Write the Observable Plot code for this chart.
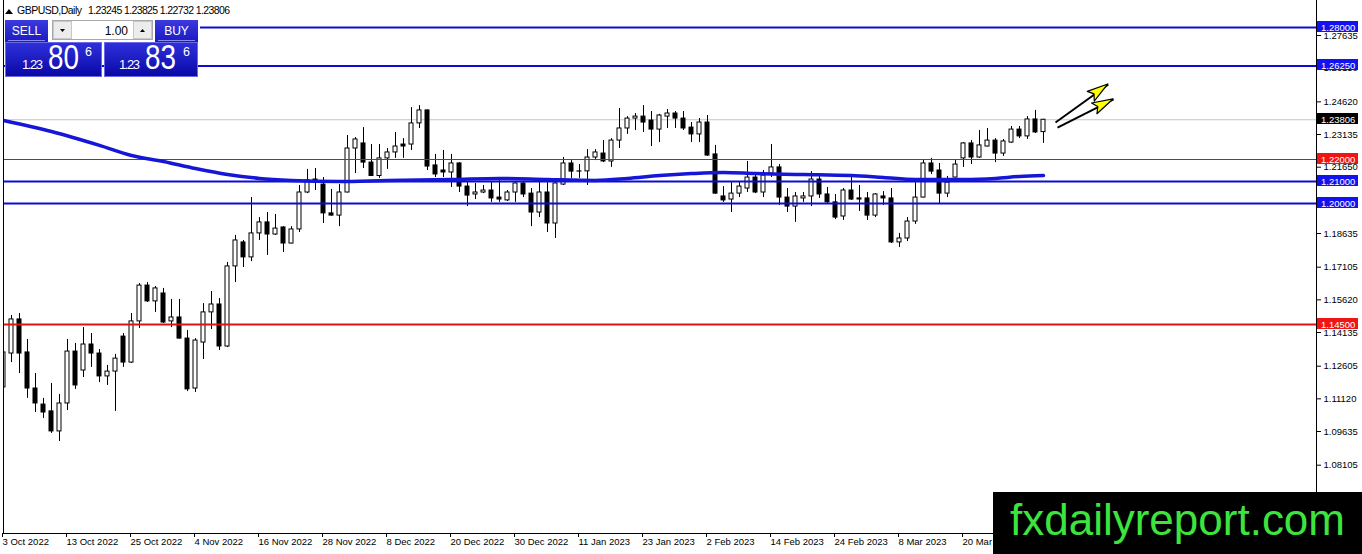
<!DOCTYPE html>
<html><head><meta charset="utf-8">
<script src="https://cdn.jsdelivr.net/npm/d3@7"></script>
<script src="https://cdn.jsdelivr.net/npm/@observablehq/plot@0.6"></script>
<style>
html,body{margin:0;padding:0;background:#fff;}
#chart{position:relative;width:1362px;height:554px;overflow:hidden;}
</style></head><body><div id="chart"></div>
<script>
// ---- data (GBPUSD daily, bar index 0 = 3 Oct 2022) ----
const opens = [1.1164,1.1318,1.1473,1.1323,1.1159,1.1086,1.1055,1.0964,1.1091,1.1327,
1.1241,1.1359,1.1318,1.1214,1.1236,1.1395,1.1277,1.1464,1.1627,1.1555,
1.1591,1.1464,1.1482,1.1386,1.1159,1.1368,1.1505,1.1541,1.1350,1.1714,
1.1823,1.1755,1.1864,1.1914,1.1859,1.1891,1.1818,1.1882,1.2050,1.2109,
1.2086,1.1955,1.1945,1.2050,1.2250,1.2273,1.2186,1.2125,1.2205,1.2232,
1.2268,1.2268,1.2364,1.2423,1.2173,1.2150,1.2141,1.2182,1.2077,1.2041,
1.2050,1.2059,1.2027,1.2014,1.2050,1.2091,1.2045,1.1959,1.2050,1.1909,
1.2086,1.2182,1.2145,1.2146,1.2209,1.2227,1.2191,1.2286,1.2341,1.2386,
1.2395,1.2377,1.2336,1.2395,1.2409,1.2386,1.2345,1.2314,1.2368,1.2223,
1.2032,1.2018,1.2045,1.2068,1.2118,1.2050,1.2136,1.2164,1.2027,1.1986,
1.2023,1.2032,1.2109,1.2041,1.2005,1.1941,1.2059,1.2023,1.2023,1.1945,
1.2032,1.2023,1.1823,1.1841,1.1918,1.2027,1.2182,1.2150,1.2045,1.2118,
1.2205,1.2273,1.2209,1.2259,1.2286,1.2227,1.2277,1.2336,1.2305,1.2382,
1.23245];
const highs = [1.1350,1.1491,1.1500,1.1382,1.1227,1.1114,1.1182,1.1132,1.1382,1.1364,
1.1436,1.1409,1.1336,1.1264,1.1314,1.1409,1.1500,1.1636,1.1641,1.1623,
1.1614,1.1564,1.1564,1.1423,1.1386,1.1545,1.1600,1.1568,1.1732,1.1855,
1.1832,1.2027,1.1936,1.1959,1.1950,1.1895,1.1895,1.2082,1.2155,1.2159,
1.2118,1.2064,1.2086,1.2309,1.2300,1.2345,1.2268,1.2268,1.2250,1.2323,
1.2295,1.2436,1.2445,1.2425,1.2223,1.2241,1.2223,1.2186,1.2095,1.2091,
1.2082,1.2095,1.2118,1.2059,1.2095,1.2095,1.2068,1.2095,1.2095,1.2095,
1.2209,1.2195,1.2177,1.2245,1.2245,1.2286,1.2295,1.2432,1.2395,1.2409,
1.2445,1.2418,1.2405,1.2427,1.2418,1.2418,1.2368,1.2386,1.2400,1.2264,
1.2077,1.2095,1.2100,1.2191,1.2136,1.2150,1.2268,1.2177,1.2068,1.2050,
1.2050,1.2145,1.2123,1.2073,1.2041,1.2068,1.2118,1.2082,1.2050,1.2045,
1.2054,1.2068,1.1864,1.1936,1.2095,1.2200,1.2205,1.2182,1.2123,1.2200,
1.2277,1.2286,1.2332,1.2341,1.2295,1.2291,1.2350,1.2350,1.2395,1.2423,
1.23825];
const lows = [1.1091,1.1277,1.1227,1.1114,1.1050,1.1023,1.0955,1.0918,1.1059,1.1155,
1.1209,1.1255,1.1186,1.1173,1.1055,1.1255,1.1273,1.1432,1.1550,1.1505,
1.1455,1.1436,1.1384,1.1145,1.1141,1.1291,1.1427,1.1332,1.1345,1.1641,
1.1709,1.1736,1.1832,1.1764,1.1855,1.1777,1.1816,1.1868,1.2045,1.2059,
1.1909,1.1943,1.1895,1.2048,1.2136,1.2159,1.2123,1.2114,1.2155,1.2205,
1.2205,1.2241,1.2341,1.2150,1.2118,1.2118,1.2073,1.2050,1.1986,1.2018,
1.2045,1.2005,1.2005,1.2009,1.2005,1.2027,1.1895,1.1936,1.1868,1.1841,
1.2082,1.2114,1.2114,1.2082,1.2195,1.2186,1.2164,1.2250,1.2314,1.2332,
1.2323,1.2259,1.2277,1.2341,1.2341,1.2332,1.2277,1.2277,1.2214,1.2041,
1.2005,1.1959,1.2027,1.2050,1.2045,1.2027,1.2118,1.1991,1.1959,1.1914,
1.2005,1.1986,1.2023,1.2000,1.1927,1.1923,1.2014,1.1964,1.1923,1.1936,
1.1991,1.1818,1.1800,1.1827,1.1905,1.2025,1.2132,1.2000,1.2027,1.2116,
1.2164,1.2177,1.2205,1.2257,1.2186,1.2214,1.2273,1.2295,1.2291,1.2318,
1.22732];
const closes = [1.1323,1.1473,1.1318,1.1159,1.1091,1.1050,1.0964,1.1091,1.1327,1.1173,
1.1359,1.1318,1.1214,1.1236,1.1295,1.1277,1.1464,1.1627,1.1555,1.1614,
1.1459,1.1482,1.1386,1.1155,1.1377,1.1505,1.1541,1.1350,1.1714,1.1832,
1.1755,1.1864,1.1914,1.1859,1.1886,1.1818,1.1882,1.2050,1.2105,1.2095,
1.1955,1.1945,1.2050,1.2250,1.2291,1.2186,1.2125,1.2205,1.2232,1.2259,
1.2259,1.2364,1.2423,1.2168,1.2132,1.2141,1.2182,1.2077,1.2036,1.2050,
1.2059,1.2023,1.2018,1.2050,1.2091,1.2041,1.1959,1.2050,1.1909,1.2091,
1.2182,1.2145,1.2146,1.2209,1.2232,1.2191,1.2286,1.2341,1.2386,1.2395,
1.2368,1.2336,1.2400,1.2409,1.2386,1.2341,1.2314,1.2368,1.2218,1.2045,
1.2014,1.2045,1.2077,1.2118,1.2050,1.2127,1.2164,1.2027,1.1986,1.2032,
1.2032,1.2109,1.2041,1.2005,1.1936,1.2059,1.2018,1.2018,1.1945,1.2041,
1.2023,1.1823,1.1841,1.1918,1.2027,1.2182,1.2145,1.2045,1.2095,1.2177,
1.2273,1.2209,1.2264,1.2286,1.2227,1.2282,1.2336,1.2305,1.2382,1.2323,
1.23806];

// moving average (bar index, value)
const maIdx  = [0,6,12,16,20,24,28,32,36,42,48,56,62,68,74,78,82,86,90,94,100,106,110,114,120,124,127,130];
const maVals = [1.2377,1.2327,1.2264,1.2218,1.2191,1.2159,1.2132,1.2114,1.2105,1.2100,1.2105,1.2109,1.2114,1.2109,1.2105,1.2114,1.2127,1.2136,1.2141,1.2136,1.2132,1.2127,1.2118,1.2109,1.2109,1.2114,1.2123,1.2127];

const dateTickIdx = [0,8,16,24,32,40,48,56,64,72,80,88,96,104,112,120];
const dateTickLabels = ["3 Oct 2022","13 Oct 2022","25 Oct 2022","4 Nov 2022","16 Nov 2022","28 Nov 2022","8 Dec 2022","20 Dec 2022","30 Dec 2022","11 Jan 2023","23 Jan 2023","2 Feb 2023","14 Feb 2023","24 Feb 2023","8 Mar 2023","20 Mar"];
const priceTicks = [1.27635,1.26150,1.24620,1.23135,1.21650,1.18635,1.17105,1.15620,1.14135,1.12605,1.11120,1.09635,1.08105];

const blueLevels = [1.28, 1.2625, 1.21, 1.20];
const redThinLevels = [1.22];
const redThickLevels = [1.145];
const lastPrice = 1.23806;

const boxLevels = [1.28, 1.2625, 1.23806, 1.22, 1.21, 1.20, 1.145];
const boxKinds  = ["blue","blue","last","red","blue","blue","red"];

// trend arrows (bar index, price)
const arrowX1 = [131.5, 131.75];
const arrowY1 = [1.2368, 1.2345];
const arrowX2 = [138.1, 138.75];
const arrowY2 = [1.2541, 1.2473];

const symbol = "GBPUSD,Daily";
const ohlcText = "1.23245 1.23825 1.22732 1.23806";
const lotSize = "1.00";
const bidParts = ["1.23","80","6"];
const askParts = ["1.23","83","6"];
const watermark = "fxdailyreport.com";

// ---- build ----
const candles = opens.map((o,i)=>({i, o, h:highs[i], l:lows[i], c:closes[i]}));
const upC = candles.filter(d=>d.c>=d.o);
const dnC = candles.filter(d=>d.c<d.o);
const ma = maIdx.map((i,k)=>({i, v:maVals[k]}));
const arrows = arrowX1.map((x,k)=>({x1:x, y1:arrowY1[k], x2:arrowX2[k], y2:arrowY2[k]}));
const labelOf = new Map(dateTickIdx.map((d,k)=>[d,dateTickLabels[k]]));

const FONT = "'Liberation Sans', Arial, sans-serif";
const BLUE = "#0c0cd4";

const plot = Plot.plot({
  width:1362, height:554,
  marginLeft:3, marginRight:46, marginTop:0, marginBottom:21,
  style:{fontFamily:FONT, fontSize:"9.5px", color:"#000", background:"#fff", overflow:"visible"},
  x:{type:"linear", domain:[0,164.125], label:null},
  y:{type:"linear", domain:[1.05,1.29227], label:null},
  marks:[
    Plot.ruleY([lastPrice], {stroke:"#c4c4c4", strokeWidth:1}),
    Plot.ruleX(candles, {x:"i", y1:"l", y2:"h", stroke:"#000", strokeWidth:1, clip:true}),
    Plot.rect(upC, {x1:d=>d.i-0.25, x2:d=>d.i+0.25, y1:"o", y2:"c", fill:"#fff", stroke:"#000", strokeWidth:1, clip:true}),
    Plot.rect(dnC, {x1:d=>d.i-0.25, x2:d=>d.i+0.25, y1:"o", y2:"c", fill:"#000", stroke:"#000", strokeWidth:1, clip:true}),
    Plot.ruleY(blueLevels, {stroke:BLUE, strokeWidth:2}),
    Plot.ruleY(redThinLevels, {stroke:"#ff0000", strokeWidth:1.2}),
    Plot.ruleY(redThickLevels, {stroke:"#dc1414", strokeWidth:2}),
    Plot.line(ma, {x:"i", y:"v", stroke:"#1616d8", strokeWidth:3.5, curve:"monotone-x", clip:true}),
    Plot.link(arrows, {x1:"x1", y1:"y1", x2:"x2", y2:"y2", stroke:"#000", strokeWidth:2}),
    Plot.ruleX([0], {stroke:"#000"}),
    Plot.ruleX([164.125], {stroke:"#000"}),
    Plot.ruleY([1.05], {stroke:"#000"}),
    Plot.axisY({anchor:"right", ticks:priceTicks, tickFormat:d=>d.toFixed(5), tickSize:4, tickPadding:3, label:null}),
    Plot.axisX({anchor:"bottom", ticks:dateTickIdx, tickFormat:d=>labelOf.get(d), tickSize:4, tickPadding:1, textAnchor:"start", dx:-1, label:null})
  ]
});
document.getElementById("chart").appendChild(plot);

const svg = d3.select(plot);
const X = plot.scale("x"), Y = plot.scale("y");
const g = svg.append("g").attr("font-family", FONT).attr("text-anchor","start");

// arrow heads
arrows.forEach(a=>{
  const sx=X.apply(a.x1), sy=Y.apply(a.y1), tx=X.apply(a.x2), ty=Y.apply(a.y2);
  const dx=tx-sx, dy=ty-sy, L=Math.hypot(dx,dy), ux=dx/L, uy=dy/L;
  const bx=tx-21*ux, by=ty-21*uy, nx=-uy, ny=ux;
  g.append("polygon")
    .attr("points", [[tx,ty],[bx+6*nx,by+6*ny],[bx+4*ux,by+4*uy],[bx-6*nx,by-6*ny]].map(p=>p.join(",")).join(" "))
    .attr("fill","#ffff00").attr("stroke","#000").attr("stroke-width",1.2).attr("stroke-linejoin","round");
});

// price boxes on the right axis
const boxFill = {blue:"#1212f0", red:"#f01414", last:"#000"};
boxLevels.forEach((v,k)=>{
  const y = Math.round(Y.apply(v));
  g.append("rect").attr("x",1317).attr("y",y-6).attr("width",41).attr("height",11).attr("fill",boxFill[boxKinds[k]]);
  g.append("text").attr("x",1321).attr("y",y+3.5).attr("fill","#fff").attr("font-size","9.5px").text(v.toFixed(5));
});

// header text
g.append("path").attr("d","M5,14 L9,9 L13,14 Z").attr("fill","#000");
g.append("text").attr("x",17).attr("y",14).attr("font-size","10.5px").attr("textLength",65).text(symbol);
g.append("text").attr("x",88).attr("y",14).attr("font-size","10.5px").attr("textLength",142).text(ohlcText);

// trade panel
const defs = svg.append("defs");
const gr = defs.append("linearGradient").attr("id","pnl").attr("x1",0).attr("y1",0).attr("x2",0).attr("y2",1);
gr.append("stop").attr("offset","0%").attr("stop-color","#3030dc");
gr.append("stop").attr("offset","100%").attr("stop-color","#0808a6");
const gb = defs.append("linearGradient").attr("id","btn").attr("x1",0).attr("y1",0).attr("x2",0).attr("y2",1);
gb.append("stop").attr("offset","0%").attr("stop-color","#3a3ae0");
gb.append("stop").attr("offset","100%").attr("stop-color","#1a1ac0");

g.append("rect").attr("x",4).attr("y",18).attr("width",196).attr("height",25).attr("fill","#fff");
// SELL / BUY buttons
[[5,"SELL"],[155,"BUY"]].forEach(([x,t])=>{
  g.append("rect").attr("x",x).attr("y",20).attr("width",43).attr("height",22).attr("fill","url(#btn)");
  g.append("line").attr("x1",x+3).attr("x2",x+40).attr("y1",40.5).attr("y2",40.5).attr("stroke","#8a8af0");
  g.append("text").attr("x",x+21.5).attr("y",35).attr("text-anchor","middle").attr("fill","#fff").attr("font-size","12px").text(t);
});
// lot spinner
g.append("rect").attr("x",52.5).attr("y",20.5).attr("width",100).attr("height",19).attr("fill","#fff").attr("stroke","#a8a8a8");
g.append("rect").attr("x",53.5).attr("y",21.5).attr("width",18).attr("height",17).attr("fill","#ececec").attr("stroke","#c8c8c8");
g.append("rect").attr("x",133.5).attr("y",21.5).attr("width",18).attr("height",17).attr("fill","#ececec").attr("stroke","#c8c8c8");
g.append("path").attr("d","M60,29 L65,29 L62.5,32 Z").attr("fill","#000");
g.append("path").attr("d","M140,32 L145,32 L142.5,29 Z").attr("fill","#000");
g.append("text").attr("x",128).attr("y",35).attr("text-anchor","end").attr("font-size","12px").text(lotSize);
// price boxes
[[5,97,bidParts,22,48,85],[104,94,askParts,119,145,183]].forEach(([x,w,parts,x1,x2,x3])=>{
  g.append("rect").attr("x",x+0.5).attr("y",42.5).attr("width",w-1).attr("height",34).attr("fill","url(#pnl)").attr("stroke","#6a6ae8");
  g.append("text").attr("x",x1).attr("y",68.5).attr("fill","#fff").attr("font-size","13px").attr("textLength",21).text(parts[0]);
  g.append("text").attr("x",x2).attr("y",68.5).attr("fill","#fff").attr("font-size","35px").attr("textLength",31).attr("lengthAdjust","spacingAndGlyphs").text(parts[1]);
  g.append("text").attr("x",x3).attr("y",56).attr("fill","#fff").attr("font-size","12.5px").text(parts[2]);
});

// watermark
g.append("rect").attr("x",993).attr("y",492).attr("width",369).attr("height",62).attr("fill","#000");
g.append("text").attr("x",1010).attr("y",535).attr("fill","#3ee43e").attr("font-size","44px").attr("textLength",335).text(watermark);
</script>
</body></html>
